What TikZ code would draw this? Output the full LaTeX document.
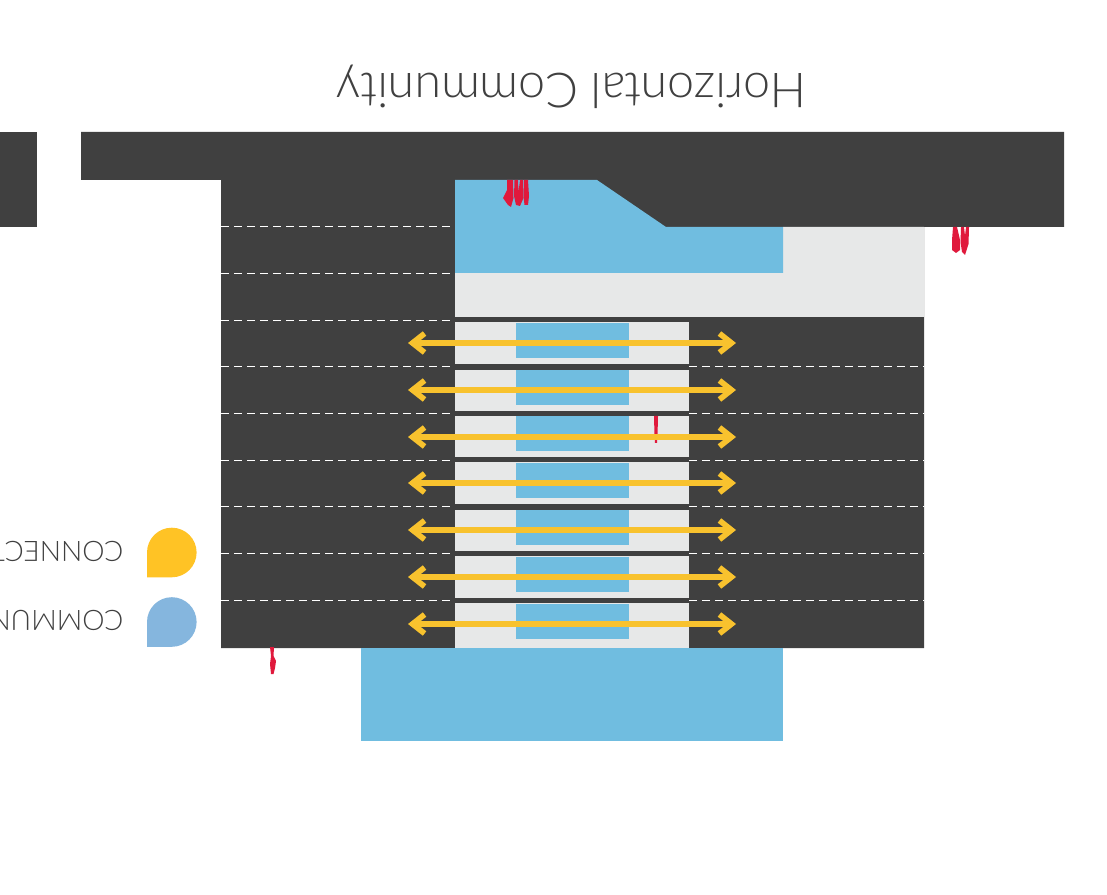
\documentclass[tikz,border=0pt]{standalone}
\usepackage{fontspec}
\setmainfont{Lato Light}
\usetikzlibrary{arrows.meta}
\definecolor{darkbar}{HTML}{404040}
\definecolor{skyb}{HTML}{70BDE0}
\definecolor{floorg}{HTML}{E7E8E8}
\definecolor{conn}{HTML}{F8C22E}
\definecolor{legb}{HTML}{85B6DE}
\definecolor{legy}{HTML}{FFC325}
\definecolor{pers}{HTML}{E0193C}
\tikzset{
 darkfill/.style={fill=darkbar,draw=none},
 skyfill/.style={fill=skyb,draw=none},
 greyfill/.style={fill=floorg,draw=none},
 dashline/.style={draw=white,line width=0.27pt,dash pattern=on 2.3pt off 1.4pt},
 link/.style={draw=conn,line width=1.6pt,{Straight Barb[length=1.2mm,width=1.9mm,line width=1.6pt]}-{Straight Barb[length=1.2mm,width=1.9mm,line width=1.6pt]}},
 person/.style={fill=pers,draw=none},
 lab/.style={text=darkbar,inner sep=0pt,rotate=180},
}
\begin{document}
\begin{tikzpicture}[x=0.01cm,y=-0.01cm]
\path[use as bounding box] (0,0) rectangle (1107,895);
\clip (0,0) rectangle (1107,895);
\fill[white] (0,0) rectangle (1107,895);
\path[darkfill] (0,132) rectangle (37,227);
\path[darkfill] (81,132) -- (1064,132) -- (1064,227) -- (924,227) -- (924,648) -- (221,648) -- (221,180) -- (81,180) -- cycle;
\path[greyfill] (783,227) -- (924,227) -- (924,317) -- (455,317) -- (455,273) -- (783,273) -- cycle;
\path[skyfill] (455,180) -- (597,180) -- (666,227) -- (783,227) -- (783,273) -- (455,273) -- cycle;
\path[skyfill] (361,648) rectangle (783,741);
\foreach \ya/\yb in {322.5/364,370/411,416/457,462/504,510/551,556.5/597.5,603/648}
  \path[greyfill] (455,\ya) rectangle (689,\yb);
\foreach \ya in {323,370,416,463,510,557,603.5}
  \path[skyfill] (516,\ya) rectangle (629,\ya+35);
\foreach \y in {226,273,320}
  \draw[dashline] (221,\y) -- (455,\y);
\foreach \y in {366,413,460,506,553,600}{
  \draw[dashline] (221,\y) -- (455,\y);
  \draw[dashline] (689,\y) -- (924,\y);
}
% people
\path[person] (507,180) -- (513,180) -- (513.5,198) -- (511,207) -- (508,205) -- (503,198) -- (507,190) -- cycle;
\path[person] (514.5,180) -- (518,180) -- (518.5,192) -- (520,180) -- (523,180) -- (523.5,198) -- (520,206) -- (516,205) -- (514,196) -- cycle;
\path[person] (524,180) -- (528,180) -- (529,196) -- (528,205) -- (524.5,205) -- (523.5,196) -- cycle;
\path[person] (654,416) -- (658,416) -- (657.5,436) -- (657,443) -- (655,443) -- (654.5,436) -- cycle;
\path[person] (953,227) -- (957,227) -- (960,240) -- (960,250) -- (956,253) -- (952,250) -- (952,240) -- cycle;
\path[person] (961,227) -- (964,227) -- (965,236) -- (966,227) -- (969,227) -- (968.5,244) -- (965,255) -- (962,252) -- (960.5,242) -- cycle;
\path[person] (270,647) -- (274,647) -- (273.5,656) -- (276,661) -- (275,668) -- (273.5,674) -- (271,674) -- (270,664) -- (271,656) -- cycle;
% connectors
\foreach \i/\y in {1/343,2/390,3/437,4/483,5/530,6/577,7/624}{
  \coordinate (al\i) at (408,\y);
  \coordinate (ar\i) at (736,\y);
  \draw[link] (al\i) -- (ar\i);
}
% legend
\fill[legy] (147,552.5) arc[start angle=180,end angle=450,radius=24.8] -- (147,577.3) -- cycle;
\fill[legb] (147,622) arc[start angle=180,end angle=450,radius=24.8] -- (147,646.8) -- cycle;
\node[lab,anchor=west,font=\fontsize{8}{9}\selectfont] (connlab) at (124,551) {CONNECT};
\node[lab,anchor=west,font=\fontsize{8}{9}\selectfont] (commlab) at (124,620) {COMMUN};
\node[lab,font=\fontsize{13.73}{15}\selectfont] (title) at (571.5,87) {Horizontal Community};
\end{tikzpicture}
\end{document}
